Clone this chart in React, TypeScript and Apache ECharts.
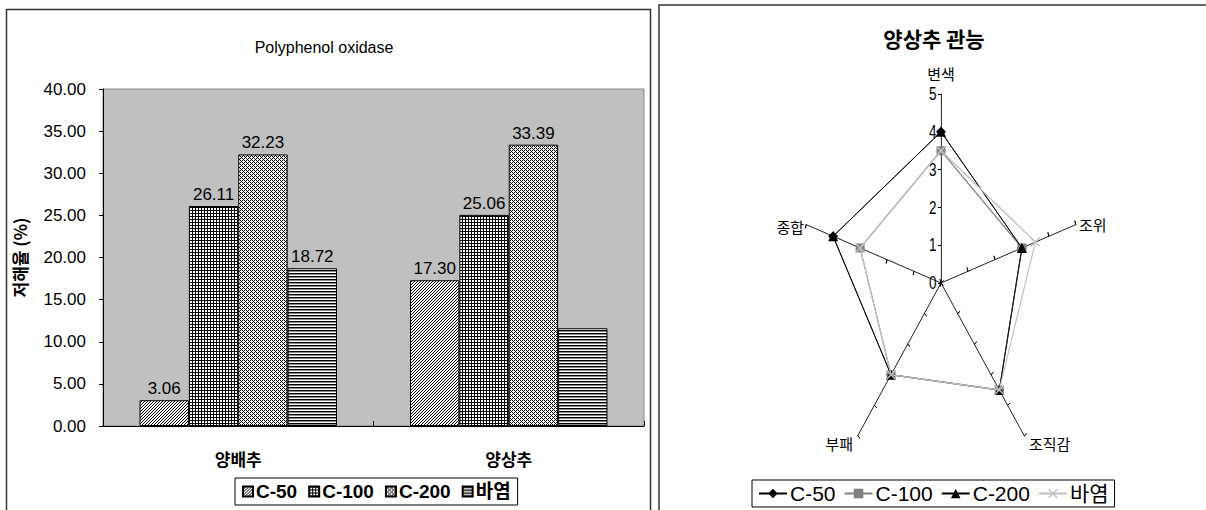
import React, { useEffect, useRef } from 'react';
import * as echarts from 'echarts';

// ---------- data ----------
const categories = ['양배추', '양상추'];
const barNames = ['C-50', 'C-100', 'C-200', '바염'];
const c50Values = [3.06, 17.3];
const c100Values = [26.11, 25.06];
const c200Values = [32.23, 33.39];
const salineValues = [18.72, 11.6];
const salineLabelShown = [true, false];
const yMin = 0;
const yMax = 40;
const yInterval = 5;

const radarIndicators = ['변색', '종합', '부패', '조직감', '조위'];
const radarMin = 0;
const radarMax = 5;
const radarC50 = [4, 4, 3, 3.5, 3];
const radarC100 = [3.5, 3, 3, 3.5, 3];
const radarC200 = [4, 4, 3, 3.5, 3];
const radarSaline = [3.5, 3, 3, 3.5, 3.5];

const FONT = '"Liberation Sans", Arial, "Noto Sans CJK KR", sans-serif';
const KFONT = '"Noto Sans CJK KR", "Liberation Sans", sans-serif';
const SQUISH = 0.75;
const X_PATH = 'path://M0,1L1,0L5,4L9,0L10,1L6,5L10,9L9,10L5,6L1,10L0,9L4,5Z';

function makePattern(rows: string[], colors: Record<string, string>) {
  const h = rows.length;
  const w = rows[0].length;
  const c = document.createElement('canvas');
  c.width = w;
  c.height = h;
  const ctx = c.getContext('2d')!;
  for (let y = 0; y < h; y++) {
    for (let x = 0; x < w; x++) {
      ctx.fillStyle = colors[rows[y][x]];
      ctx.fillRect(x, y, 1, 1);
    }
  }
  return { image: c, repeat: 'repeat', imageWidth: w, imageHeight: h } as any;
}

export default function App() {
  const refA = useRef<HTMLDivElement>(null);
  const refB = useRef<HTMLDivElement>(null);

  useEffect(() => {
    document.body.style.margin = '0';
    const bw = { '#': '#000000', '.': '#ffffff', g: '#8a8a8a', d: '#555555' };
    const patterns = [
      makePattern(['..#', '.#.', '#..'], bw),
      makePattern(['###', '#..', '#..'], bw),
      makePattern(['#.#.', '.#..', '#.#.', '...#'], bw),
      makePattern(['#', 'g', '.'], bw),
    ];
    const barValues = [c50Values, c100Values, c200Values, salineValues];

    const chartA = echarts.init(refA.current!, null, { renderer: 'svg' });
    const chartB = echarts.init(refB.current!, null, { renderer: 'svg' });

    const barSeries = barNames.map((name, si) => ({
      type: 'bar',
      name,
      xAxisIndex: 0,
      yAxisIndex: 0,
      barGap: '0%',
      barCategoryGap: '27%',
      itemStyle: { color: patterns[si], borderColor: '#000', borderWidth: 1 },
      label: {
        show: true,
        position: 'top',
        distance: 3,
        color: '#000',
        fontSize: 17,
        fontFamily: FONT,
        formatter: (p: any) => Number(p.value).toFixed(2),
      },
      data: barValues[si].map((v, i) =>
        si === 3 && !salineLabelShown[i] ? { value: v, label: { show: false } } : v
      ),
    }));

    const radarStyles = [
      { name: 'C-50', color: '#000000', symbol: 'diamond', size: 10, width: 1 },
      { name: 'C-100', color: '#808080', symbol: 'rect', size: 9, width: 1.5 },
      { name: 'C-200', color: '#000000', symbol: 'triangle', size: 10, width: 1 },
      { name: '바염', color: '#c0c0c0', symbol: X_PATH, size: 10, width: 1.5 },
    ];
    const radarValues = [radarC50, radarC100, radarC200, radarSaline];

    const legendDummies = radarStyles.map((s) => ({
      type: 'line',
      name: 'r:' + s.name,
      xAxisIndex: 1,
      yAxisIndex: 1,
      data: [],
      symbol: s.symbol,
      symbolSize: s.size,
      itemStyle: { color: s.color },
      lineStyle: { color: s.color, width: s.width },
    }));

    chartA.setOption({
      animation: false,
      backgroundColor: '#ffffff',
      textStyle: { fontFamily: FONT },
      grid: [
        {
          left: 103,
          top: 89,
          width: 541,
          height: 337,
          show: true,
          backgroundColor: '#c0c0c0',
          borderColor: '#8a8a8a',
          borderWidth: 1,
        },
        { left: 0, top: 0, width: 1, height: 1, show: false },
      ],
      xAxis: [
        {
          type: 'category',
          gridIndex: 0,
          data: categories,
          axisLine: { lineStyle: { color: '#000', width: 1 } },
          axisTick: { show: true, inside: true, length: 5, lineStyle: { color: '#000' } },
          axisLabel: { color: '#000', fontSize: 17, fontWeight: 'bold', margin: 24, fontFamily: KFONT },
        },
        { type: 'value', gridIndex: 1, show: false },
      ],
      yAxis: [
        {
          type: 'value',
          gridIndex: 0,
          min: yMin,
          max: yMax,
          interval: yInterval,
          axisLine: { show: true, lineStyle: { color: '#000', width: 1 } },
          axisTick: { show: true, length: 4, lineStyle: { color: '#000' } },
          splitLine: { show: false },
          axisLabel: {
            color: '#000',
            fontSize: 17,
            margin: 17,
            fontFamily: FONT,
            formatter: (v: number) => v.toFixed(2),
          },
          name: '저해율 (%)',
          nameLocation: 'middle',
          nameGap: 75,
          nameRotate: 90,
          nameTextStyle: { color: '#000', fontSize: 17, fontWeight: 'bold', fontFamily: KFONT },
        },
        { type: 'value', gridIndex: 1, show: false },
      ],
      legend: [
        {
          left: 235,
          top: 478,
          orient: 'horizontal',
          data: barNames,
          selectedMode: false,
          icon: 'rect',
          itemWidth: 10,
          itemHeight: 10,
          itemGap: 11,
          padding: [4, 7],
          borderColor: '#000',
          borderWidth: 1,
          textStyle: { color: '#000', fontSize: 19, fontWeight: 'bold', fontFamily: FONT, padding: [0, 0, 0, -2] },
        },
        {
          left: 752,
          top: 480,
          orient: 'horizontal',
          data: radarStyles.map((s) => 'r:' + s.name),
          formatter: (n: string) => n.replace('r:', ''),
          selectedMode: false,
          itemWidth: 28,
          itemHeight: 12,
          itemGap: 8,
          padding: [3, 6],
          borderColor: '#000',
          borderWidth: 1,
          textStyle: { color: '#000', fontSize: 21, fontFamily: FONT, padding: [0, 0, 0, -2] },
        },
      ],
      graphic: [
        {
          type: 'rect',
          silent: true,
          shape: { x: 6.5, y: 9.5, width: 644, height: 520 },
          style: { fill: 'none', stroke: '#333', lineWidth: 1.5 },
        },
        {
          type: 'rect',
          silent: true,
          shape: { x: 659, y: 5, width: 560, height: 520 },
          style: { fill: 'none', stroke: '#333', lineWidth: 1.5 },
        },
        {
          type: 'text',
          x: 324,
          y: 47,
          style: { text: 'Polyphenol oxidase', fontSize: 16, fill: '#000', align: 'center', verticalAlign: 'middle', fontFamily: FONT },
        },
        {
          type: 'text',
          x: 934,
          y: 38,
          style: { text: '양상추 관능', fontSize: 21, fontWeight: 'bold', fill: '#000', align: 'center', verticalAlign: 'middle', fontFamily: KFONT },
        },
        { type: 'text', x: 941, y: 73, style: { text: radarIndicators[0], fontSize: 15, fill: '#000', align: 'center', verticalAlign: 'middle', fontFamily: KFONT } },
        { type: 'text', x: 804, y: 226, style: { text: radarIndicators[1], fontSize: 15, fill: '#000', align: 'right', verticalAlign: 'middle', fontFamily: KFONT } },
        { type: 'text', x: 853, y: 443, style: { text: radarIndicators[2], fontSize: 15, fill: '#000', align: 'right', verticalAlign: 'middle', fontFamily: KFONT } },
        { type: 'text', x: 1029, y: 443, style: { text: radarIndicators[3], fontSize: 15, fill: '#000', align: 'left', verticalAlign: 'middle', fontFamily: KFONT } },
        { type: 'text', x: 1079, y: 224, style: { text: radarIndicators[4], fontSize: 15, fill: '#000', align: 'left', verticalAlign: 'middle', fontFamily: KFONT } },
      ],
      series: [...barSeries, ...legendDummies],
    });

    const radarBase = {
      center: [376, 283],
      radius: 189,
      startAngle: 90,
      splitNumber: 5,
      shape: 'polygon',
      axisName: { show: false },
      splitLine: { show: false },
      splitArea: { show: false },
    };

    chartB.setOption({
      animation: false,
      radar: [
        {
          ...radarBase,
          indicator: radarIndicators.map((name, i) => ({
            name,
            min: radarMin,
            max: radarMax,
            ...(i === 0 ? { axisLabel: { show: true } } : {}),
          })),
          axisLine: { show: true, lineStyle: { color: '#000', width: 1 } },
          axisTick: { show: true, length: 4, lineStyle: { color: '#000' } },
          axisLabel: { show: false, color: '#000', fontSize: 18, margin: 6, fontFamily: FONT },
        },
        {
          ...radarBase,
          indicator: radarIndicators.map((name) => ({ name, min: radarMin, max: radarMax })),
          axisLine: { show: false },
          axisTick: { show: true, inside: true, length: 4, lineStyle: { color: '#000' } },
          axisLabel: { show: false },
        },
      ],
      series: radarStyles.map((s, i) => ({
        type: 'radar',
        name: s.name,
        radarIndex: 0,
        symbol: s.symbol,
        symbolSize: [s.size / SQUISH, s.size],
        itemStyle: { color: s.color },
        lineStyle: { color: s.color, width: s.width },
        z: 2 + i,
        data: [{ value: radarValues[i], name: s.name }],
      })),
    });

    return () => {
      chartA.dispose();
      chartB.dispose();
    };
  }, []);

  return (
    <div style={{ position: 'fixed', left: 0, top: 0, width: 1206, height: 510, overflow: 'hidden', background: '#fff' }}>
      <div ref={refA} style={{ position: 'absolute', left: 0, top: 0, width: 1206, height: 510 }} />
      <div
        ref={refB}
        style={{
          position: 'absolute',
          left: 659,
          top: 0,
          width: Math.round((1206 - 659) / SQUISH),
          height: 510,
          transform: `scaleX(${SQUISH})`,
          transformOrigin: '0 0',
          pointerEvents: 'none',
        }}
      />
    </div>
  );
}
